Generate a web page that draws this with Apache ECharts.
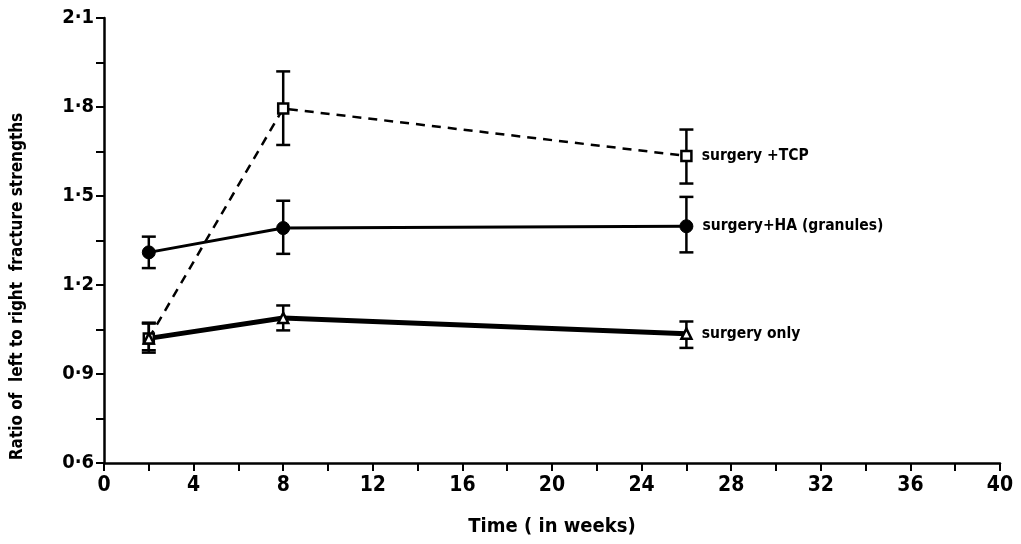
<!DOCTYPE html>
<html><head><meta charset="utf-8">
<script src="https://cdn.jsdelivr.net/npm/echarts@6/dist/echarts.min.js"></script>
<style>html,body{margin:0;padding:0;background:#fff}#c{width:1021px;height:544px}</style>
</head><body><div id="c"></div>
<script>
const weeks = [2, 8, 26];
const tcpMean = [1.02, 1.795, 1.635];
const tcpLow  = [0.98, 1.672, 1.542];
const tcpHigh = [1.07, 1.92, 1.724];
const haMean = [1.31, 1.392, 1.398];
const haLow  = [1.257, 1.305, 1.31];
const haHigh = [1.363, 1.484, 1.497];
const onlyMean = [1.02, 1.089, 1.036];
const onlyLow  = [0.972, 1.047, 0.988];
const onlyHigh = [1.073, 1.131, 1.077];
const seriesNames = ['surgery +TCP', 'surgery+HA (granules)', 'surgery only'];

const FONT = '"DejaVu Sans Condensed", "DejaVu Sans", sans-serif';
const chart = echarts.init(document.getElementById('c'));

function errSeries(low, high) {
  return {
    type: 'custom', z: 3,
    data: weeks.map((w, i) => [w, low[i], high[i]]),
    renderItem: function (params, api) {
      const lo = api.coord([api.value(0), api.value(1)]);
      const hi = api.coord([api.value(0), api.value(2)]);
      const hw = 7;
      const st = {stroke: '#000', lineWidth: 2.5};
      return {type: 'group', children: [
        {type: 'line', shape: {x1: lo[0], y1: lo[1], x2: hi[0], y2: hi[1]}, style: st},
        {type: 'line', shape: {x1: lo[0]-hw, y1: lo[1], x2: lo[0]+hw, y2: lo[1]}, style: st},
        {type: 'line', shape: {x1: hi[0]-hw, y1: hi[1], x2: hi[0]+hw, y2: hi[1]}, style: st}
      ]};
    }
  };
}
function pts(mean, name) {
  return weeks.map((w, i) => {
    const d = {value: [w, mean[i]]};
    if (i === weeks.length - 1) {
      d.label = {show: true, position: 'right', distance: 9, formatter: name,
        color: '#000', fontFamily: FONT, fontWeight: 'bold', fontSize: 15.5};
    }
    return d;
  });
}

chart.setOption({
  animation: false,
  backgroundColor: '#fff',
  grid: {left: 104, right: 21, top: 18, bottom: 81, outerBoundsMode: 'none', containLabel: false},
  xAxis: {
    type: 'value', min: 0, max: 40, interval: 4,
    name: 'Time ( in weeks)', nameLocation: 'middle', nameGap: 54,
    nameTextStyle: {color: '#000', fontFamily: FONT, fontWeight: 'bold', fontSize: 20},
    axisLine: {lineStyle: {color: '#000', width: 2.5}},
    axisTick: {inside: false, length: 8, lineStyle: {color: '#000', width: 2}},
    minorTick: {show: true, splitNumber: 2, length: 8, lineStyle: {color: '#000', width: 2}},
    axisLabel: {color: '#000', fontFamily: FONT, fontWeight: 'bold', fontSize: 21, margin: 12},
    splitLine: {show: false}
  },
  yAxis: {
    type: 'value', min: 0.6, max: 2.1, interval: 0.3,
    name: 'Ratio of  left to right  fracture strengths', nameLocation: 'middle', nameGap: 78,
    nameRotate: 90,
    nameTextStyle: {color: '#000', fontFamily: FONT, fontWeight: 'bold', fontSize: 17,
      padding: [0, 92, 0, 0]},
    axisLine: {show: true, lineStyle: {color: '#000', width: 2.5}},
    axisTick: {show: true, inside: false, length: 8, lineStyle: {color: '#000', width: 2}},
    minorTick: {show: true, splitNumber: 2, length: 8, lineStyle: {color: '#000', width: 2}},
    axisLabel: {color: '#000', fontFamily: FONT, fontWeight: 'bold', fontSize: 20, margin: 10,
      formatter: v => v.toFixed(1).replace('.', '·')},
    splitLine: {show: false}
  },
  series: [
    {name: seriesNames[0], type: 'line', z: 4, data: pts(tcpMean, seriesNames[0]),
     symbol: 'rect', symbolSize: 10,
     itemStyle: {color: '#fff', borderColor: '#000', borderWidth: 2.5},
     lineStyle: {color: '#000', width: 2.5, type: [9, 7]}},
    {name: seriesNames[1], type: 'line', z: 4, data: pts(haMean, seriesNames[1]),
     symbol: 'circle', symbolSize: 13,
     itemStyle: {color: '#000', borderColor: '#000', borderWidth: 1},
     lineStyle: {color: '#000', width: 3}},
    {name: seriesNames[2], type: 'line', z: 4, data: pts(onlyMean, seriesNames[2]),
     symbol: 'triangle', symbolSize: 10,
     itemStyle: {color: '#fff', borderColor: '#000', borderWidth: 2.5},
     lineStyle: {color: '#000', width: 5}},
    errSeries(tcpLow, tcpHigh),
    errSeries(haLow, haHigh),
    errSeries(onlyLow, onlyHigh)
  ]
});
</script></body></html>
